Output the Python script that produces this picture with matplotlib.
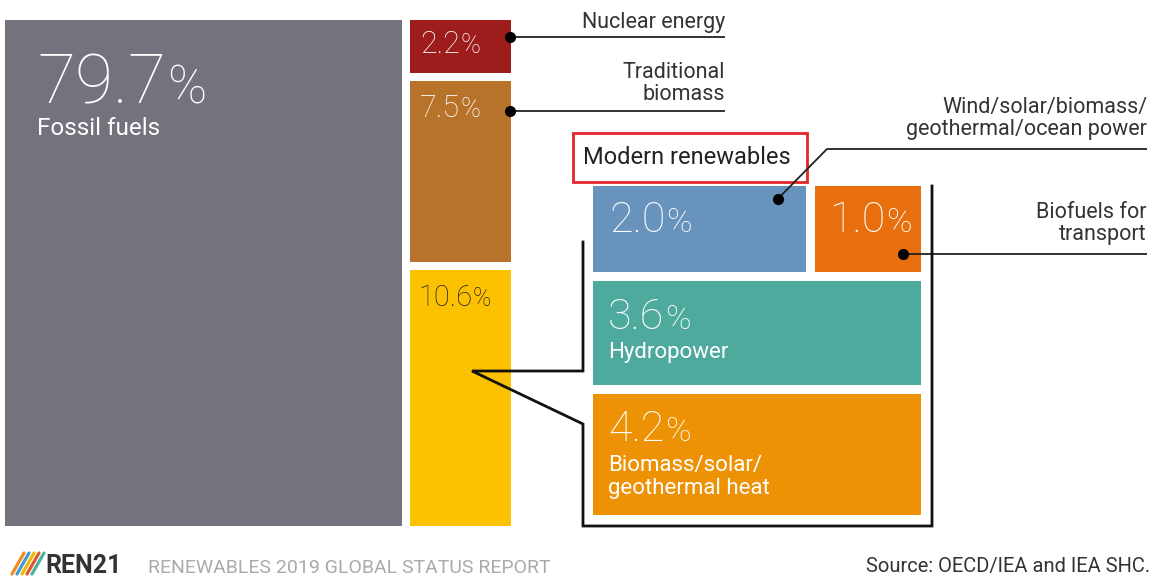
import matplotlib.pyplot as plt
from matplotlib.patches import Rectangle

# Share of total final energy consumption, 2017 (%)
main_labels = ['Fossil fuels', 'Nuclear energy', 'Traditional\nbiomass', 'Modern renewables']
main_values = [79.7, 2.2, 7.5, 10.6]
main_colors = ['#75717d', '#9d1c1c', '#b8732a', '#fcc100']

modern_labels = ['Wind/solar/biomass/\ngeothermal/ocean power', 'Biofuels for\ntransport',
                 'Hydropower', 'Biomass/solar/\ngeothermal heat']
modern_values = [2.0, 1.0, 3.6, 4.2]
modern_colors = ['#6893bd', '#e86f0d', '#4faa9e', '#ee9205']

plt.rcParams['font.family'] = ['Roboto', 'DejaVu Sans']

fig = plt.figure(figsize=(11.52, 5.76), dpi=100)
ax = fig.add_axes([0, 0, 1, 1])
ax.set_xlim(0, 1152)
ax.set_ylim(576, 0)
ax.axis('off')
renderer = fig.canvas.get_renderer()

TXT = '#333333'


def value_text(x, y, val, size, color, pct_scale=0.8):
    t = ax.text(x, y, f'{val:.1f}', fontsize=size, color=color, va='baseline',
                ha='left', fontweight='light')
    bb = t.get_window_extent(renderer)
    xe = ax.transData.inverted().transform((bb.x1, bb.y0))[0]
    ax.text(xe + 1, y, '%', fontsize=size * pct_scale, color=color, va='baseline',
            ha='left', fontweight='light')


def dot_line(pts):
    xs, ys = zip(*pts)
    ax.plot(xs, ys, color='#222222', lw=1.3, solid_capstyle='butt')
    ax.plot(xs[0], ys[0], 'o', color='black', ms=7)


def side_label(x, y_line, text):
    # y is the baseline of the last line, just above the leader line
    ax.text(x, y_line - 11, text, fontsize=15.5, color=TXT, ha='right', va='baseline',
            linespacing=1.08)


# ---- main treemap: fossil block + stacked column
top, bottom, gap = 20, 526, 8
col_w = 101
col_x = 410
fossil_w = col_w * main_values[0] / sum(main_values[1:])
fossil_x = col_x - gap - fossil_w
ax.add_patch(Rectangle((fossil_x, top), fossil_w, bottom - top, color=main_colors[0], lw=0))
value_text(fossil_x + 32, 103, main_values[0], 50, 'white', 0.76)
ax.text(fossil_x + 32, 135, main_labels[0], fontsize=17.5, color='white', va='baseline')

avail = bottom - top - gap * 2
col_sum = sum(main_values[1:])
y = top
boxes = []
for val, col in zip(main_values[1:], main_colors[1:]):
    h = avail * val / col_sum
    ax.add_patch(Rectangle((col_x, y), col_w, h, color=col, lw=0))
    boxes.append((y, h))
    y += h + gap

# nuclear
ny, nh = boxes[0]
value_text(col_x + 10, ny + 33, main_values[1], 22, 'white', 0.88)
dot_line([(col_x + col_w - 1, ny + 17), (725, ny + 17)])
side_label(725, ny + 17 + 2, main_labels[1])
# traditional biomass
ty, th = boxes[1]
value_text(col_x + 10, ty + 36, main_values[2], 22, 'white', 0.88)
dot_line([(col_x + col_w - 1, ty + 30), (725, ty + 30)])
side_label(725, ty + 30, main_labels[2])
# modern renewables column
my, mh = boxes[2]
value_text(col_x + 8, my + 36, main_values[3], 21, '#222222', 0.85)

# ---- modern renewables panel
px0, px1, py0, py1, pg = 593, 921, 186, 515, 9
row_vals = [modern_values[0] + modern_values[1], modern_values[2], modern_values[3]]
row_avail = py1 - py0 - 2 * pg
row_h = [row_avail * v / sum(row_vals) for v in row_vals]
pw = px1 - px0

# top row: two boxes side by side
w0 = (pw - pg) * modern_values[0] / row_vals[0]
w1 = (pw - pg) * modern_values[1] / row_vals[0]
r0 = py0
ax.add_patch(Rectangle((px0, r0), w0, row_h[0], color=modern_colors[0], lw=0))
ax.add_patch(Rectangle((px0 + w0 + pg, r0), w1, row_h[0], color=modern_colors[1], lw=0))
value_text(px0 + 16, r0 + 46, modern_values[0], 31, 'white')
value_text(px0 + w0 + pg + 14, r0 + 46, modern_values[1], 31, 'white')

r1 = r0 + row_h[0] + pg
ax.add_patch(Rectangle((px0, r1), pw, row_h[1], color=modern_colors[2], lw=0))
value_text(px0 + 15, r1 + 48, modern_values[2], 31, 'white')
ax.text(px0 + 15, r1 + 77, modern_labels[2], fontsize=16, color='white', va='baseline')

r2 = r1 + row_h[1] + pg
ax.add_patch(Rectangle((px0, r2), pw, row_h[2], color=modern_colors[3], lw=0))
value_text(px0 + 15, r2 + 47, modern_values[3], 31, 'white')
ax.text(px0 + 15, r2 + 100, modern_labels[3], fontsize=16, color='white', va='baseline',
        linespacing=1.15)

# leader lines into the panel
dot_line([(px0 + w0 - 28, r0 + 13), (827, 149), (1147, 149)])
side_label(1147, 149 - 3, modern_labels[0])
dot_line([(px1 - 18, r0 + row_h[0] - 18), (1147, r0 + row_h[0] - 18)])
side_label(1147, r0 + row_h[0] - 18 - 3, modern_labels[1])

# callout bracket from the yellow bar
lx, rx = px0 - 10, px1 + 11
tip_x = col_x + 62
ax.plot([lx, lx, tip_x, lx, lx, rx, rx],
        [242, 371, 371, 424, bottom, bottom, py0],
        color='#111111', lw=2, solid_joinstyle='miter')

# "Modern renewables" header box
ax.add_patch(Rectangle((573, 133), 234, 49, facecolor='white', edgecolor='#e3262a', lw=2))
ax.text(583, 164, main_labels[3], fontsize=17, color='#222222', va='baseline')

# ---- footer
logo_cols = ['#f08a1c', '#3d9ad6', '#f2b705', '#e4572e', '#47b39c']
for i, c in enumerate(logo_cols):
    x0 = 12 + i * 5
    ax.plot([x0, x0 + 12], [574, 553], color=c, lw=2.3, solid_capstyle='round')
ax.text(45, 573, 'REN21', fontsize=18, color='#333333', fontweight='bold', va='baseline')
ax.text(148, 573, 'RENEWABLES 2019 GLOBAL STATUS REPORT', fontsize=14, color='#aaaaaa',
        va='baseline')
ax.text(1150, 572, 'Source: OECD/IEA and IEA SHC.', fontsize=14.5, color='#333333',
        ha='right', va='baseline')

fig.savefig('out.png', dpi=100)
